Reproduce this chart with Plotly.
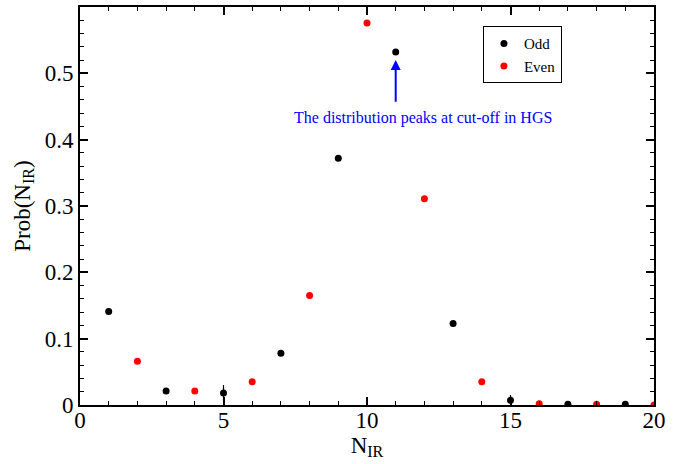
import plotly.graph_objects as go

odd_x = [1, 3, 5, 7, 9, 11, 13, 15, 17, 19]
odd_y = [0.141, 0.021, 0.018, 0.078, 0.372, 0.532, 0.123, 0.007, 0.001, 0.001]
odd_err = [0, 0, 0.012, 0, 0, 0, 0, 0.008, 0, 0]

even_x = [2, 4, 6, 8, 10, 12, 14, 16, 18, 20]
even_y = [0.066, 0.021, 0.035, 0.165, 0.576, 0.311, 0.035, 0.002, 0.001, 0.0]

font = "Liberation Serif"

fig = go.Figure()
fig.add_trace(go.Scatter(x=odd_x, y=odd_y, mode="markers", name="Odd",
                         marker=dict(color="black", size=7),
                         error_y=dict(type="data", array=odd_err, color="black", thickness=1.2, width=0)))
fig.add_trace(go.Scatter(x=even_x, y=even_y, mode="markers", name="Even",
                         marker=dict(color="red", size=7)))

axis_common = dict(showline=True, linecolor="black", linewidth=2, mirror="ticks",
                   ticks="inside", ticklen=8, tickwidth=1.5, tickcolor="black",
                   showgrid=False, zeroline=False,
                   tickfont=dict(family=font, size=23, color="black"))

fig.update_xaxes(range=[0, 20], dtick=5, tick0=0,
                 minor=dict(ticks="inside", dtick=1, ticklen=4, tickcolor="black", tickwidth=1.2),
                 ticklabelstandoff=-7,
                 title=dict(text="N<sub>IR</sub>", font=dict(family=font, size=23, color="black"), standoff=4),
                 **axis_common)
fig.update_yaxes(range=[0, 0.6], dtick=0.1, tick0=0,
                 minor=dict(ticks="inside", dtick=0.02, ticklen=4, tickcolor="black", tickwidth=1.2),
                 tickformat="~g",
                 title=dict(text="Prob(N<sub>IR</sub>)", font=dict(family=font, size=23, color="black"), standoff=8),
                 **axis_common)

fig.add_annotation(x=11, y=0.52, ax=11, ay=0.455, xref="x", yref="y", axref="x", ayref="y",
                   showarrow=True, arrowhead=2, arrowsize=1, arrowwidth=2, arrowcolor="blue", text="")
fig.add_annotation(x=11.95, y=0.432, xref="x", yref="y", showarrow=False,
                   text="The distribution peaks at cut-off in HGS",
                   font=dict(family=font, size=16, color="blue"))

fig.update_layout(
    width=695, height=464,
    margin=dict(l=80, r=41, t=5, b=59),
    plot_bgcolor="white", paper_bgcolor="white",
    showlegend=True,
    legend=dict(x=0.702, y=0.88, xanchor="left", yanchor="middle",
                bordercolor="black", borderwidth=1, bgcolor="white",
                font=dict(family=font, size=15, color="black"),
                itemwidth=30, tracegroupgap=0),
)

fig.write_html("out.html", config={"displayModeBar": False},
               post_script="document.body.style.margin='0';")
